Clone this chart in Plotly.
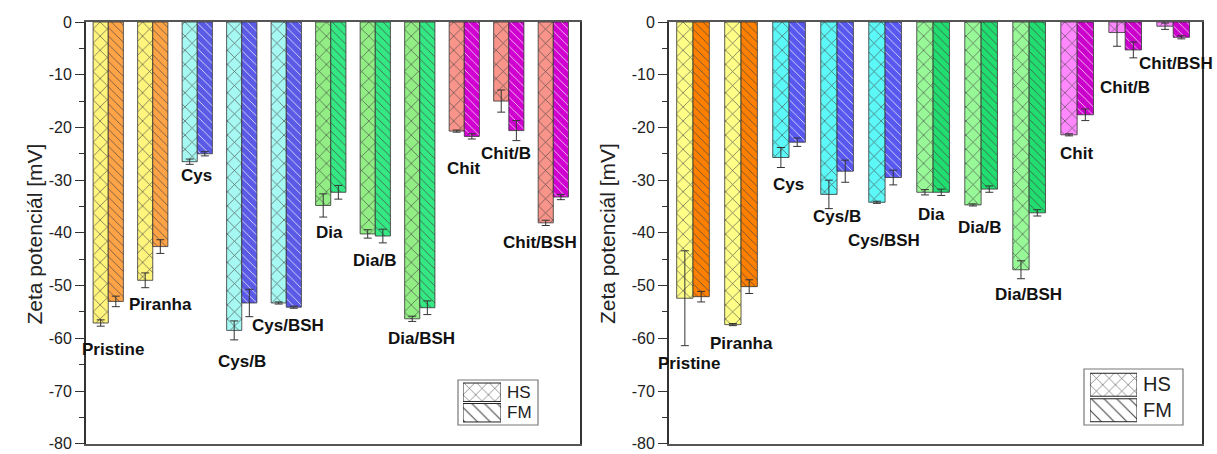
import plotly.graph_objects as go

# Sample categories (same order in both panels)
categories = ["Pristine", "Piranha", "Cys", "Cys/B", "Cys/BSH", "Dia", "Dia/B",
              "Dia/BSH", "Chit", "Chit/B", "Chit/BSH"]

# Left panel: zeta potential [mV] and standard deviations
left_hs = [-57.1, -49.0, -26.5, -58.5, -53.3, -34.8, -40.2, -56.3, -20.7, -15.0, -38.1]
left_hs_err = [0.6, 1.4, 0.5, 1.8, 0.2, 2.2, 0.8, 0.5, 0.2, 2.1, 0.5]
left_fm = [-53.0, -42.6, -25.0, -53.3, -54.1, -32.3, -40.6, -54.2, -21.7, -20.6, -33.2]
left_fm_err = [1.0, 1.3, 0.4, 2.6, 0.2, 1.3, 1.3, 1.3, 0.5, 1.9, 0.5]

# Right panel
right_hs = [-52.4, -57.4, -25.7, -32.7, -34.2, -32.3, -34.7, -47.0, -21.4, -2.0, -0.8]
right_hs_err = [9.0, 0.2, 1.9, 2.7, 0.2, 0.5, 0.2, 1.7, 0.2, 2.6, 0.6]
right_fm = [-52.1, -50.2, -22.8, -28.3, -29.5, -32.3, -31.7, -36.2, -17.6, -5.3, -2.9]
right_fm_err = [1.0, 1.3, 0.8, 2.1, 1.4, 0.6, 0.6, 0.6, 1.1, 1.5, 0.3]

series_names = ["HS", "FM"]
y_ticks = [0, -10, -20, -30, -40, -50, -60, -70, -80]
y_tick_text = ["0", "-10", "-20", "-30", "-40", "-50", "-60", "-70", "-80"]

# Surface family of each category (bare, Cys, Dia, Chit)
family = [0, 0, 1, 1, 1, 2, 2, 2, 3, 3, 3]

left_hs_colors = ["#FFF47C", "#A6F9F2", "#92EE84", "#F8948A"]
left_fm_colors = ["#FFA446", "#5A5AE6", "#34E884", "#D000D0"]
right_hs_colors = ["#FFFF88", "#5CF8F8", "#98F898", "#FF88FF"]
right_fm_colors = ["#FF8000", "#5858F0", "#22DD70", "#CC00CC"]

# Label placement for each category: x offset from group centre, y in mV
left_label_dx = [0.11, 0.17, -0.02, 0.01, 0.04, -0.03, -0.02, 0.03, -0.02, -0.06, -0.29]
left_label_y = [-62.2, -53.5, -29.1, -64.4, -57.5, -40.0, -45.3, -60.1, -27.7, -25.0, -41.9]
right_label_dx = [-0.08, 0.02, -0.01, -0.01, -0.03, -0.04, -0.04, -0.02, -0.01, -0.01, 0.05]
right_label_y = [-64.7, -61.0, -30.9, -36.8, -41.5, -36.6, -39.0, -51.6, -25.0, -12.4, -7.9]

FONT = "Arial, Liberation Sans, sans-serif"
W, H = 1217, 454
x_idx = list(range(len(categories)))

fig = go.Figure()


def add_panel(hs, hs_err, fm, fm_err, hs_cols, fm_cols, xa, ya):
    for name, vals, errs, cols, shape, size in [
        ("HS", hs, hs_err, hs_cols, "x", 10),
        ("FM", fm, fm_err, fm_cols, "\\", 6),
    ]:
        colors = [cols[f] for f in family]
        fig.add_trace(go.Bar(
            x=x_idx, y=vals, name=name, showlegend=False,
            xaxis=xa, yaxis=ya,
            marker=dict(
                color=colors,
                line=dict(color="#333333", width=0.8),
                pattern=dict(shape=shape, fgcolor="#1a1a1a", fgopacity=0.85,
                             fillmode="overlay", size=size, solidity=0.14),
            ),
            error_y=dict(type="data", array=errs, visible=True,
                         color="#333333", thickness=1, width=4),
        ))


add_panel(left_hs, left_hs_err, left_fm, left_fm_err,
          left_hs_colors, left_fm_colors, "x", "y")
add_panel(right_hs, right_hs_err, right_fm, right_fm_err,
          right_hs_colors, right_fm_colors, "x2", "y2")

# Legend swatches drawn as small patterned bars on their own axes
for xa, ya in [("x3", "y3"), ("x4", "y4")]:
    fig.add_trace(go.Bar(
        x=[1, 1], y=[1, 0], orientation="h", width=[0.9, 0.9],
        xaxis=xa, yaxis=ya, showlegend=False, hoverinfo="skip",
        marker=dict(color="white", line=dict(color="#222222", width=1),
                    pattern=dict(shape=["x", "\\"], fgcolor="#222222", fgopacity=0.85,
                                 fillmode="overlay", size=9, solidity=0.12)),
    ))


def px_x(p):
    return p / W


def px_y(p):
    return 1 - p / H


y_dom = [px_y(444), px_y(22)]

yaxis_common = dict(
    range=[-80.05, 0], tickvals=y_ticks, ticktext=y_tick_text, ticks="outside",
    ticklen=9, tickwidth=1.3, ticklabeloverflow="allow", automargin=False,
    tickcolor="#333333", showline=True, linecolor="#333333", linewidth=1.8,
    mirror=True, zeroline=False, showgrid=False,
    tickfont=dict(family=FONT, size=16, color="#222222"),
    minor=dict(dtick=5, ticks="outside", ticklen=5, tickcolor="#333333", tickwidth=1.2),
)
xaxis_common = dict(
    range=[-0.5, 10.6], showticklabels=False, ticks="", showline=True,
    automargin=False,
    linecolor="#555555", linewidth=1.8, mirror=True, zeroline=False, showgrid=False,
)
hidden = dict(visible=False, showgrid=False, zeroline=False, fixedrange=True,
              automargin=False)

fig.update_layout(
    width=W, height=H,
    margin=dict(l=0, r=0, t=0, b=0),
    paper_bgcolor="white", plot_bgcolor="white",
    barmode="group", bargap=0.32, bargroupgap=0,
    font=dict(family=FONT, color="#111111"),
    xaxis=dict(domain=[px_x(86), px_x(580)], anchor="y", **xaxis_common),
    yaxis=dict(domain=y_dom, anchor="x", **yaxis_common),
    xaxis2=dict(domain=[px_x(669), px_x(1202)], anchor="y2", **xaxis_common),
    yaxis2=dict(domain=y_dom, anchor="x2", **yaxis_common),
    xaxis3=dict(domain=[px_x(463), px_x(501)], anchor="y3", range=[0, 1], **hidden),
    yaxis3=dict(domain=[px_y(423), px_y(382)], anchor="x3", range=[-0.5, 1.5], **hidden),
    xaxis4=dict(domain=[px_x(1090), px_x(1137)], anchor="y4", range=[0, 1], **hidden),
    yaxis4=dict(domain=[px_y(423), px_y(372)], anchor="x4", range=[-0.5, 1.5], **hidden),
)

annotations = []
# Category labels next to the bars
for i, name in enumerate(categories):
    annotations.append(dict(
        x=i + left_label_dx[i], y=left_label_y[i], xref="x", yref="y",
        text=f"<b>{name}</b>", showarrow=False,
        font=dict(family=FONT, size=17, color="#111111")))
    annotations.append(dict(
        x=i + right_label_dx[i], y=right_label_y[i], xref="x2", yref="y2",
        text=f"<b>{name}</b>", showarrow=False,
        font=dict(family=FONT, size=17, color="#111111")))

# Axis titles
for xc in [20, 607]:
    annotations.append(dict(
        x=px_x(xc), y=px_y(234), xref="paper", yref="paper",
        text="Zeta potenciál [mV]", textangle=-90, showarrow=False,
        font=dict(family=FONT, size=21, color="#222222")))

# Legend entry texts
for xt, yts, fs in [(505, (392, 412), 17), (1141, (384, 410), 20)]:
    for name, yt in zip(series_names, yts):
        annotations.append(dict(
            x=px_x(xt), y=px_y(yt), xref="paper", yref="paper",
            xanchor="left", yanchor="middle", text=name, showarrow=False,
            font=dict(family=FONT, size=fs, color="#222222")))

fig.update_layout(annotations=annotations)

# Legend frames
shapes = []
for x0, x1, y0, y1 in [(458, 538, 380, 425), (1084, 1183, 369, 425)]:
    shapes.append(dict(type="rect", xref="paper", yref="paper",
                       x0=px_x(x0), x1=px_x(x1), y0=px_y(y1), y1=px_y(y0),
                       line=dict(color="#777777", width=1.2), fillcolor="rgba(0,0,0,0)"))
fig.update_layout(shapes=shapes)

fig.write_html("out.html")
